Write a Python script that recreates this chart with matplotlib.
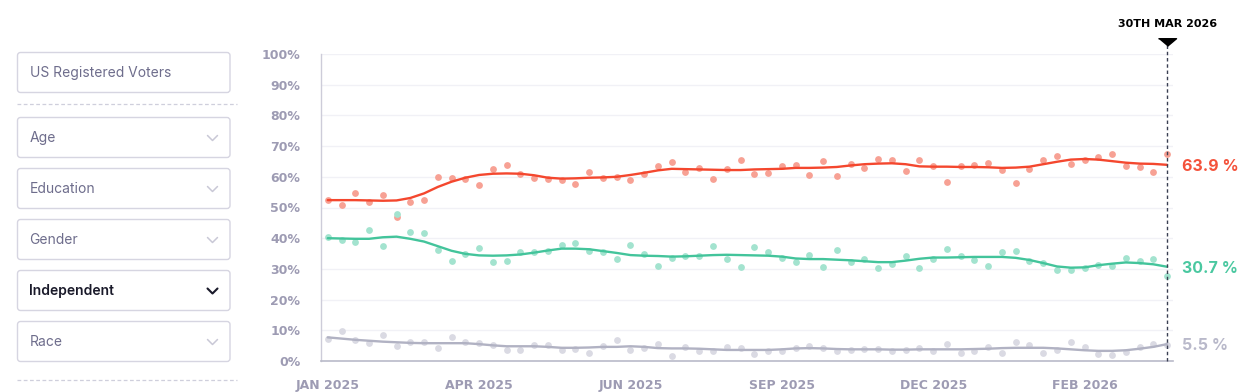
import numpy as np
import matplotlib.pyplot as plt
from matplotlib.patches import FancyBboxPatch
from matplotlib.transforms import blended_transform_factory

# weekly poll readings (percent), Jan 2025 -> 30 Mar 2026
disapprove = [52.4, 50.8, 54.7, 51.7, 54.2, 47.0, 51.9, 52.4, 59.8, 59.6, 59.3, 57.4, 62.4, 63.7, 61.0, 59.7,
              59.2, 58.8, 57.7, 61.6, 59.7, 60.0, 59.0, 61.0, 63.5, 64.9, 61.5, 63.0, 59.3, 62.4, 65.5, 60.9,
              61.3, 63.4, 63.7, 60.6, 65.1, 60.4, 64.3, 63.0, 65.8, 65.4, 62.0, 65.4, 63.4, 58.2, 63.5, 64.0,
              64.5, 62.1, 58.1, 62.6, 65.6, 66.9, 64.2, 65.4, 66.6, 67.3, 63.5, 63.2, 61.6, 67.3]
approve = [40.5, 39.3, 38.7, 42.7, 37.6, 48.0, 42.1, 41.7, 36.0, 32.6, 35.0, 36.9, 32.4, 32.6, 35.4, 35.4,
           35.8, 37.8, 38.4, 35.8, 35.5, 33.3, 37.7, 35.0, 30.9, 33.6, 34.3, 34.2, 37.6, 33.2, 30.7, 37.0,
           35.6, 33.4, 32.2, 34.6, 30.7, 36.3, 32.1, 33.1, 30.3, 31.5, 34.3, 30.4, 33.2, 36.4, 34.2, 32.8,
           31.1, 35.6, 35.8, 32.6, 32.0, 29.7, 29.7, 30.2, 31.3, 30.9, 33.7, 32.7, 33.1, 27.6]
unsure = [7.2, 9.8, 6.7, 5.9, 8.5, 5.0, 6.2, 6.2, 4.2, 7.8, 6.1, 5.8, 5.3, 3.7, 3.7, 5.1,
          5.3, 3.6, 4.0, 2.6, 5.0, 6.8, 3.6, 4.3, 5.6, 1.6, 4.5, 3.1, 3.4, 4.5, 4.1, 2.3,
          3.1, 3.3, 4.2, 5.0, 4.2, 3.4, 3.7, 4.0, 4.0, 3.4, 3.6, 4.3, 3.3, 5.5, 2.6, 3.4,
          4.7, 2.5, 6.2, 5.1, 2.5, 3.5, 6.2, 4.7, 2.3, 2.1, 2.8, 4.5, 5.4, 5.2]

# smoothed trend lines as drawn on the chart
disapprove_trend = [52.4, 52.4, 52.4, 52.3, 52.2, 52.3, 53.1, 54.6, 56.7, 58.4, 59.7, 60.6, 61.0, 61.1, 61.0, 60.5,
                    59.7, 59.4, 59.5, 59.7, 59.8, 60.0, 60.6, 61.3, 62.1, 62.6, 62.5, 62.4, 62.3, 62.2, 62.2, 62.4,
                    62.5, 62.6, 62.9, 62.9, 63.0, 63.2, 63.7, 64.1, 64.3, 64.4, 64.1, 63.4, 63.3, 63.3, 63.2, 63.2,
                    63.1, 62.9, 63.0, 63.3, 64.1, 64.9, 65.6, 65.8, 65.6, 65.1, 64.6, 64.3, 64.2, 63.9]
approve_trend = [40.0, 39.9, 39.8, 39.8, 40.3, 40.5, 39.8, 38.9, 37.4, 35.9, 34.9, 34.4, 34.3, 34.4, 34.7, 35.3,
                 36.0, 36.6, 36.6, 36.4, 35.8, 35.2, 34.5, 34.3, 34.2, 34.0, 34.1, 34.3, 34.5, 34.6, 34.5, 34.4,
                 34.3, 34.0, 33.4, 33.2, 33.2, 33.0, 32.8, 32.5, 32.2, 32.2, 32.7, 33.3, 33.7, 33.7, 33.8, 33.9,
                 33.9, 33.9, 33.6, 32.9, 31.9, 30.8, 30.4, 30.5, 31.2, 31.7, 32.1, 31.9, 31.5, 30.7]
unsure_trend = [7.7, 7.3, 6.9, 6.6, 6.3, 6.1, 5.9, 5.8, 5.8, 5.8, 5.8, 5.5, 5.1, 4.8, 4.8, 4.8,
                4.6, 4.3, 4.3, 4.4, 4.6, 4.6, 4.8, 4.6, 4.2, 4.1, 4.1, 4.0, 3.8, 3.6, 3.6, 3.6,
                3.6, 3.8, 4.1, 4.2, 4.1, 3.9, 3.8, 3.8, 3.8, 3.7, 3.7, 3.8, 3.8, 3.8, 3.8, 3.9,
                4.0, 4.2, 4.3, 4.3, 4.3, 4.1, 3.8, 3.5, 3.3, 3.3, 3.5, 4.0, 4.6, 5.5]
final_values = [63.9, 30.7, 5.5]

tick_idx = [0, 11, 22, 33, 44, 55]
tick_labels = ['JAN 2025', 'APR 2025', 'JUN 2025', 'SEP 2025', 'DEC 2025', 'FEB 2026']
date_label = '30TH MAR 2026'

filter_top = 'US Registered Voters'
filters = ['Age', 'Education', 'Gender', 'Independent', 'Race']
active = 'Independent'

axis_grey = '#9d9bb3'
series = [
    (disapprove, disapprove_trend, '#f4472e', '#f7a194', '#f4523b'),
    (approve, approve_trend, '#43c49b', '#a3e3cf', '#4ac8a0'),
    (unsure, unsure_trend, '#b1b2c3', '#dadae3', '#b9b9ca'),
]

fig = plt.figure(figsize=(12.44, 3.92), dpi=100)

# left filter panel, drawn in pixel coordinates
side = fig.add_axes([0, 0, 1, 1])
side.set_xlim(0, 1244)
side.set_ylim(392, 0)
side.axis('off')


def draw_box(y0, label, bold=False, chevron=True):
    box = FancyBboxPatch((17.5, y0), 212.5, 40, boxstyle='round,pad=0,rounding_size=3',
                         fc='white', ec='#d6d5e1', lw=1.0)
    side.add_patch(box)
    side.text(29.5, y0 + 20.5, label, va='center', ha='left', fontsize=10, family='Inter',
              color='#1a1a2a' if bold else '#6e6d8c', fontweight='semibold' if bold else 'normal')
    if chevron:
        c = '#1a1a2a' if bold else '#c9c8d6'
        side.plot([207.5, 212.5, 217.5], [y0 + 18, y0 + 23, y0 + 18], color=c,
                  lw=1.5 if bold else 1.1, solid_capstyle='round')


draw_box(52.5, filter_top, chevron=False)
side.plot([17, 237], [104, 104], color='#cfcfdc', lw=0.9, ls=(0, (3, 2)))
for k, name in enumerate(filters):
    draw_box(117.5 + k * 51, name, bold=(name == active))
side.plot([17, 237], [380, 380], color='#cfcfdc', lw=0.9, ls=(0, (3, 2)))

# main chart
ax = fig.add_axes([321 / 1244, 31 / 392, 852 / 1244, 307 / 392])
ax.set_facecolor('none')
x = np.arange(len(disapprove))

for vals, trend, line_c, dot_c, lab_c in series:
    ax.scatter(x, vals, s=24, color=dot_c, zorder=2, linewidths=0)
    ax.plot(x, trend, color=line_c, lw=1.7, zorder=3, solid_capstyle='round')

ax.set_xlim(-0.49, 61.43)
ax.set_ylim(0, 100)
ax.set_yticks(np.arange(0, 101, 10))
ax.set_yticklabels([f'{v}%' for v in range(0, 101, 10)])
ax.set_xticks(tick_idx)
ax.set_xticklabels(tick_labels)
ax.tick_params(axis='both', length=0, labelcolor=axis_grey)
ax.tick_params(axis='y', pad=15)
ax.tick_params(axis='x', pad=13)
for lab in ax.get_xticklabels() + ax.get_yticklabels():
    lab.set_fontweight('bold')
    lab.set_fontsize(9)
    lab.set_family('DejaVu Sans')

ax.grid(axis='y', color='#f1f1f6', lw=1)
ax.set_axisbelow(True)
for s in ['top', 'right']:
    ax.spines[s].set_visible(False)
ax.spines['left'].set_color('#cdccd9')
ax.spines['bottom'].set_color('#b9bac9')
ax.spines['left'].set_linewidth(1)
ax.spines['bottom'].set_linewidth(1.2)

# current-date marker
last = x[-1]
ax.axvline(last, ymin=0, ymax=1.035, color='#3a3f52', lw=1, ls=(0, (2.5, 2)), clip_on=False, zorder=4)
trans = blended_transform_factory(ax.transData, ax.transAxes)
tri = [(-1, 0.42), (1, 0.42), (0, -0.42)]
ax.plot([last], [1.04], marker=tri, ms=13, color='black', transform=trans, clip_on=False, zorder=5)
ax.text(last, 1.098, date_label, transform=trans, ha='center', va='center',
        fontsize=8, fontweight='bold', color='black')

# end-of-line value labels
for (vals, trend, line_c, dot_c, lab_c), v in zip(series, final_values):
    ax.annotate(f'{v} %', xy=(last, trend[-1]), xytext=(11, -1), textcoords='offset points',
                ha='left', va='center', fontsize=11.5, fontweight='bold', family='Inter',
                color=lab_c, annotation_clip=False)

plt.savefig('out.png', dpi=100)
